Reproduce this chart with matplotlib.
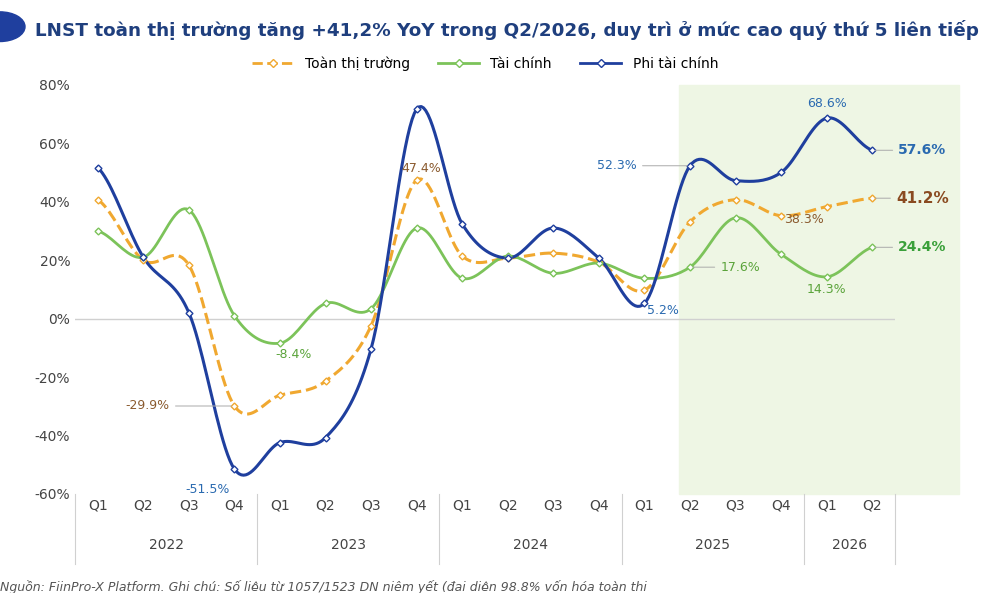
import numpy as np
import matplotlib.pyplot as plt
from matplotlib.patches import Rectangle

quarters = ["Q1", "Q2", "Q3", "Q4"] * 4 + ["Q1", "Q2"]
years = ["2022", "2023", "2024", "2025", "2026"]

toan_tt = [40.7, 20.0, 18.3, -29.9, -26.2, -21.4, -2.4, 47.4, 21.4, 20.7, 22.4, 19.3, 9.7, 33.1, 40.7, 35.2, 38.3, 41.2]
tai_chinh = [30.0, 21.0, 37.2, 1.0, -8.4, 5.2, 3.4, 31.0, 13.8, 21.4, 15.5, 19.0, 13.8, 17.6, 34.5, 22.0, 14.3, 24.4]
phi_tc = [51.7, 21.0, 2.0, -51.5, -42.4, -40.7, -10.3, 71.7, 32.4, 20.7, 31.0, 20.7, 5.2, 52.3, 47.2, 50.0, 68.6, 57.6]

c_or, c_gr, c_bl = "#f0a830", "#7cc35a", "#1f3f9e"


def smooth(y, n=20):
    # catmull-rom just for drawing the curve
    y = np.asarray(y, float)
    p = np.concatenate([[y[0]], y, [y[-1]]])
    xs, ys = [], []
    for i in range(len(y) - 1):
        t = np.linspace(0, 1, n, endpoint=False)
        p0, p1, p2, p3 = p[i], p[i + 1], p[i + 2], p[i + 3]
        v = 0.5 * ((2 * p1) + (-p0 + p2) * t + (2 * p0 - 5 * p1 + 4 * p2 - p3) * t**2 + (-p0 + 3 * p1 - 3 * p2 + p3) * t**3)
        xs.append(i + t)
        ys.append(v)
    xs.append([len(y) - 1])
    ys.append([y[-1]])
    return np.concatenate(xs), np.concatenate(ys)


fig = plt.figure(figsize=(10, 5.93), dpi=100)
ax = fig.add_axes([0.075, 0.167, 0.82, 0.69])
x = np.arange(len(quarters))
ax.set_xlim(-0.5, 17.5)
ax.set_ylim(-60, 80)

ax.add_patch(Rectangle((12.75, -60), 6.15, 140, color="#eef6e4", zorder=0, clip_on=False))
ax.axhline(0, color="#d0d0d0", lw=1, zorder=1)

for data, col, ls, lab, lw in [(toan_tt, c_or, "--", "Toàn thị trường", 2.2),
                                (tai_chinh, c_gr, "-", "Tài chính", 2.0),
                                (phi_tc, c_bl, "-", "Phi tài chính", 2.2)]:
    sx, sy = smooth(data)
    ax.plot(sx, sy, color=col, ls=ls, lw=lw, zorder=3)
    ax.plot(x, data, ls="none", marker="D", ms=3.5, mfc="white", mec=col, zorder=4)
    ax.plot([], [], color=col, ls=ls, lw=2, marker="D", ms=4, mfc="white", mec=col, label=lab)

ax.legend(loc="upper center", bbox_to_anchor=(0.5, 1.1), ncol=3, frameon=False, fontsize=10, handlelength=3)

for s in ["top", "right", "left", "bottom"]:
    ax.spines[s].set_visible(False)
ax.set_yticks(range(-60, 81, 20))
ax.set_yticklabels([f"{v}%" for v in range(-60, 81, 20)], fontsize=10, color="#444")
ax.tick_params(length=0)
ax.set_xticks(x)
ax.set_xticklabels(quarters, fontsize=10, color="#444")

# year labels and separators
tr = ax.get_xaxis_transform()
for k, yr in enumerate(years):
    ax.text(1.5 + 4 * k if k < 4 else 16.5, -0.135, yr, transform=tr, ha="center", fontsize=10, color="#444")
for b in [-0.5, 3.5, 7.5, 11.5, 15.5, 17.5]:
    ax.plot([b, b], [0, -0.17], transform=tr, color="#d0d0d0", lw=0.8, clip_on=False)

# annotations
def note(i, val, txt, col, dx, dy, bold=False, size=9):
    ax.annotate(txt, (i, val), xytext=(i + dx, val + dy), color=col, fontsize=size,
                fontweight="bold" if bold else "normal", ha="center", va="center",
                arrowprops=dict(arrowstyle="-", color="#aaa", lw=0.7) if abs(dx) > 0.6 else None, zorder=5)

note(3, -29.9, "-29.9%", "#8a5a2e", -1.9, 0)
note(3, -51.5, "-51.5%", "#2a6ab0", -0.6, -7)
note(4, -8.4, "-8.4%", "#5aa33a", 0.3, -4)
note(7, 47.4, "47.4%", "#8a5a2e", 0.1, 4)
note(13, 52.3, "52.3%", "#2a6ab0", -1.6, 0)
note(12, 5.2, "5.2%", "#2a6ab0", 0.4, -2.5)
note(13, 17.6, "17.6%", "#5aa33a", 1.1, 0)
note(16, 68.6, "68.6%", "#2a6ab0", 0, 5)
note(16, 38.3, "38.3%", "#8a5a2e", -0.5, -4.5)
note(16, 14.3, "14.3%", "#5aa33a", 0, -4.5)
note(17, 57.6, "57.6%", "#2a6ab0", 1.1, 0, bold=True, size=10)
note(17, 41.2, "41.2%", "#8a4a20", 1.1, 0, bold=True, size=11)
note(17, 24.4, "24.4%", "#3aa03a", 1.1, 0, bold=True, size=10)

fig.text(0.035, 0.95, "LNST toàn thị trường tăng +41,2% YoY trong Q2/2026, duy trì ở mức cao quý thứ 5 liên tiếp",
         fontsize=13.2, fontweight="bold", color="#1f3f7e", va="center")
fig.add_artist(plt.Circle((0.0, 0.955), 0.025, transform=fig.transFigure, color="#1f3f9e"))
fig.text(0.0, -0.002, "Nguồn: FiinPro-X Platform. Ghi chú: Số liệu từ 1057/1523 DN niêm yết (đại diện 98.8% vốn hóa toàn thị",
         fontsize=9, style="italic", color="#555", va="bottom")

fig.savefig("out.png", dpi=100)
